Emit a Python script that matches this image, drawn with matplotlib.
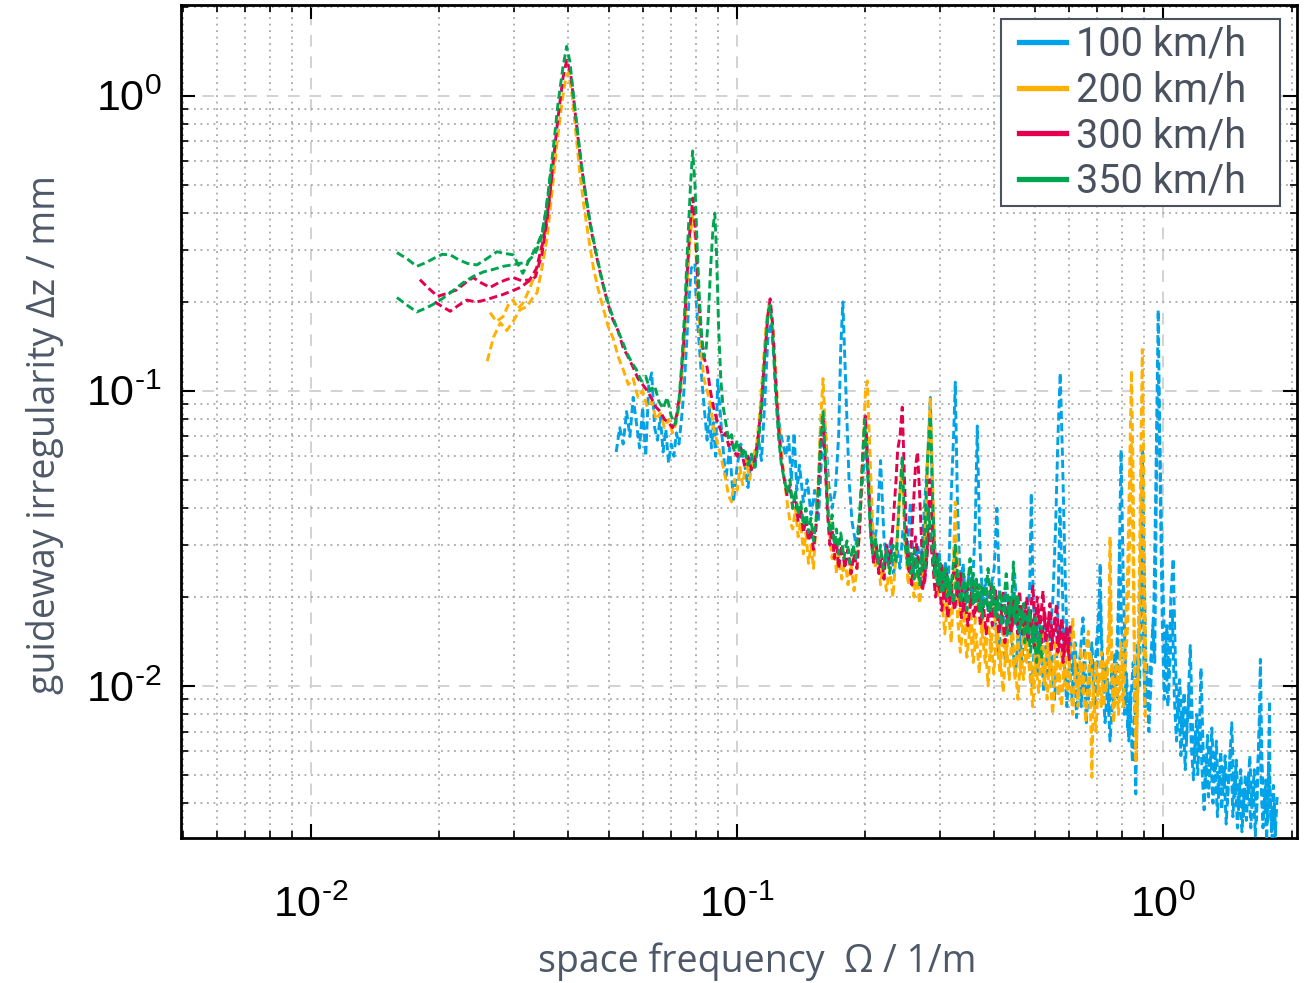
import matplotlib
matplotlib.use("Agg")
import math
import matplotlib.pyplot as plt
from matplotlib.lines import Line2D
from matplotlib.patches import Rectangle
from matplotlib.ticker import LogLocator, NullFormatter, FuncFormatter

# ---------------- data ----------------
blue_pts = [(0.052,0.062),(0.053,0.075),(0.054,0.066),(0.055,0.085),(0.056,0.07),(0.057,0.095),(0.058,0.078),(0.059,0.064),(0.060,0.088),(0.061,0.06),(0.062,0.105),(0.063,0.115),(0.064,0.075),(0.065,0.068),(0.066,0.082),(0.067,0.062),(0.068,0.074),(0.069,0.057),(0.070,0.066),(0.071,0.06),(0.072,0.072),(0.073,0.066),(0.074,0.08),(0.075,0.1),(0.076,0.14),(0.077,0.2),(0.078,0.26),(0.0796,0.27),(0.080,0.21),(0.081,0.16),(0.082,0.125),(0.083,0.1),(0.084,0.082),(0.085,0.068),(0.086,0.088),(0.087,0.064),(0.088,0.078),(0.089,0.06),(0.090,0.109),(0.092,0.072),(0.094,0.05),(0.096,0.064),(0.098,0.042),(0.100,0.056),(0.102,0.066),(0.104,0.057),(0.106,0.047),(0.108,0.06),(0.110,0.054),(0.112,0.07),(0.114,0.058),(0.116,0.09),(0.118,0.15),(0.120,0.17),(0.122,0.13),(0.124,0.088),(0.126,0.074),(0.128,0.066),(0.130,0.06),(0.132,0.07),(0.134,0.05),(0.136,0.072),(0.138,0.046),(0.140,0.056),(0.143,0.042),(0.146,0.05),(0.149,0.038),(0.152,0.046),(0.155,0.036),(0.158,0.062),(0.161,0.075),(0.164,0.048),(0.167,0.04),(0.170,0.046),(0.173,0.07),(0.175,0.14),(0.177,0.2),(0.180,0.1),(0.183,0.05),(0.186,0.036),(0.190,0.03),(0.194,0.038),(0.198,0.055),(0.201,0.072),(0.205,0.042),(0.209,0.03),(0.213,0.035),(0.217,0.058),(0.221,0.032),(0.225,0.026),(0.229,0.031),(0.233,0.024),(0.237,0.03),(0.241,0.025),(0.245,0.034),(0.250,0.027),(0.255,0.042),(0.260,0.023),(0.265,0.03),(0.270,0.026),(0.275,0.04),(0.280,0.06),(0.284,0.095),(0.288,0.038),(0.293,0.024),(0.298,0.028),(0.303,0.021),(0.308,0.026),(0.313,0.022),(0.318,0.045),(0.322,0.07),(0.325,0.107),(0.329,0.04),(0.334,0.022),(0.339,0.026),(0.344,0.019),(0.350,0.024),(0.356,0.02),(0.362,0.035),(0.366,0.076),(0.371,0.03),(0.377,0.019),(0.383,0.023),(0.389,0.017),(0.395,0.022),(0.401,0.025),(0.407,0.04),(0.413,0.02),(0.420,0.016),(0.427,0.021),(0.434,0.015),(0.441,0.019),(0.448,0.024),(0.455,0.016),(0.462,0.013),(0.470,0.018),(0.478,0.014),(0.486,0.022),(0.490,0.045),(0.495,0.02),(0.503,0.013),(0.511,0.017),(0.519,0.012),(0.527,0.016),(0.535,0.011),(0.543,0.015),(0.551,0.02),(0.559,0.035),(0.566,0.07),(0.573,0.115),(0.580,0.06),(0.588,0.025),(0.596,0.013),(0.604,0.016),(0.612,0.011),(0.621,0.014),(0.630,0.01),(0.639,0.013),(0.648,0.017),(0.657,0.011),(0.667,0.009),(0.677,0.013),(0.687,0.01),(0.697,0.014),(0.706,0.018),(0.711,0.026),(0.716,0.015),(0.726,0.0095),(0.736,0.012),(0.746,0.008),(0.756,0.011),(0.766,0.0085),(0.776,0.012),(0.786,0.02),(0.796,0.063),(0.806,0.022),(0.816,0.011),(0.826,0.007),(0.836,0.0095),(0.846,0.0055),(0.856,0.008),(0.862,0.0043),(0.870,0.011),(0.878,0.016),(0.886,0.03),(0.893,0.066),(0.900,0.03),(0.910,0.012),(0.920,0.0085),(0.930,0.011),(0.940,0.014),(0.950,0.018),(0.960,0.045),(0.967,0.1),(0.973,0.188),(0.980,0.08),(0.990,0.035),(1.000,0.02),(1.010,0.012),(1.020,0.016),(1.030,0.011),(1.042,0.02),(1.055,0.027),(1.068,0.012),(1.080,0.008),(1.093,0.0105),(1.106,0.007),(1.119,0.0095),(1.132,0.0065),(1.145,0.009),(1.157,0.0137),(1.170,0.0075),(1.184,0.0055),(1.198,0.008),(1.212,0.006),(1.226,0.0115),(1.240,0.0062),(1.255,0.0045),(1.270,0.0068),(1.285,0.005),(1.300,0.0072),(1.316,0.0048),(1.332,0.0065),(1.348,0.0042),(1.364,0.006),(1.380,0.0045),(1.397,0.0058),(1.414,0.004),(1.431,0.0055),(1.448,0.0075),(1.466,0.0042),(1.484,0.0056),(1.502,0.0038),(1.520,0.0052),(1.539,0.0036),(1.558,0.005),(1.577,0.0042),(1.596,0.0058),(1.615,0.0039),(1.635,0.0052),(1.655,0.0035),(1.675,0.0062),(1.690,0.0123),(1.705,0.0055),(1.722,0.0038),(1.740,0.0048),(1.758,0.0034),(1.776,0.0089),(1.780,0.0045),(1.795,0.0032),(1.813,0.0046),(1.831,0.0031),(1.850,0.0042)]
blue_hi_pts = [(0.402,0.018),(0.410,0.013),(0.418,0.017),(0.426,0.012),(0.434,0.02),(0.442,0.014),(0.450,0.011),(0.458,0.016),(0.466,0.012),(0.474,0.019),(0.482,0.013),(0.492,0.01),(0.500,0.015),(0.508,0.011),(0.516,0.0145),(0.524,0.0095),(0.532,0.013),(0.540,0.017),(0.548,0.012),(0.556,0.009),(0.564,0.014),(0.572,0.04),(0.578,0.025),(0.586,0.012),(0.594,0.0085),(0.602,0.012),(0.610,0.009),(0.618,0.013),(0.626,0.0078),(0.634,0.011),(0.642,0.0085),(0.650,0.012),(0.660,0.0075),(0.670,0.011),(0.680,0.014),(0.690,0.0085),(0.700,0.012),(0.710,0.02),(0.720,0.011),(0.730,0.0075),(0.740,0.01),(0.750,0.0065),(0.760,0.009),(0.770,0.013),(0.780,0.009),(0.790,0.03),(0.800,0.014),(0.810,0.008),(0.820,0.011),(0.830,0.0065),(0.840,0.009),(0.850,0.012),(0.860,0.0075),(0.870,0.014),(0.880,0.01),(0.890,0.04),(0.898,0.014),(0.906,0.0085),(0.915,0.012),(0.925,0.007),(0.935,0.01),(0.945,0.016),(0.955,0.012),(0.965,0.06),(0.975,0.11),(0.985,0.04),(0.995,0.016),(1.005,0.009),(1.015,0.013),(1.025,0.0085),(1.037,0.012),(1.050,0.018),(1.062,0.009),(1.074,0.0065),(1.087,0.009),(1.100,0.0058),(1.113,0.008),(1.126,0.0052),(1.139,0.0075),(1.151,0.01),(1.164,0.0062),(1.177,0.0048),(1.191,0.007),(1.205,0.005),(1.219,0.0078),(1.233,0.0052),(1.247,0.0038),(1.262,0.0056),(1.277,0.0042),(1.292,0.006),(1.308,0.004),(1.324,0.0056),(1.340,0.0036),(1.356,0.005),(1.372,0.0038),(1.388,0.0052),(1.405,0.0034),(1.422,0.0048),(1.440,0.0062),(1.457,0.0036),(1.475,0.005),(1.493,0.0033),(1.511,0.0046),(1.530,0.0032),(1.548,0.0044),(1.567,0.0035),(1.586,0.005),(1.605,0.0033),(1.625,0.0046),(1.645,0.0031),(1.665,0.0052),(1.685,0.008),(1.698,0.0045),(1.714,0.0033),(1.731,0.0043),(1.749,0.003),(1.767,0.0055),(1.786,0.0038),(1.804,0.0029),(1.822,0.004),(1.840,0.0029)]

orange_pts = [(0.0259,0.126),(0.0268,0.152),(0.0278,0.17),(0.0288,0.16),(0.0298,0.172),(0.0309,0.188),(0.0321,0.193),(0.0330,0.205),(0.0339,0.215),(0.0348,0.26),(0.0358,0.33),(0.0368,0.48),(0.0378,0.7),(0.0388,0.95),(0.0396,1.15),(0.0402,1.2),(0.0410,1.0),(0.0418,0.75),(0.0427,0.55),(0.0437,0.42),(0.0448,0.33),(0.0460,0.26),(0.0472,0.22),(0.0485,0.19),(0.0498,0.165),(0.0512,0.15),(0.0526,0.13),(0.0540,0.118),(0.0555,0.105),(0.0570,0.11),(0.0585,0.095),(0.0600,0.1),(0.0615,0.088),(0.0630,0.092),(0.0645,0.08),(0.0660,0.084),(0.0675,0.075),(0.0690,0.08),(0.0705,0.072),(0.0720,0.078),(0.0735,0.095),(0.0750,0.14),(0.0762,0.22),(0.0775,0.33),(0.0787,0.4),(0.0798,0.32),(0.0810,0.2),(0.0822,0.14),(0.0835,0.11),(0.0850,0.1),(0.0865,0.09),(0.0880,0.075),(0.0895,0.068),(0.0910,0.062),(0.0925,0.056),(0.0940,0.05),(0.0955,0.044),(0.0970,0.042),(0.0985,0.05),(0.1000,0.046),(0.1015,0.055),(0.1030,0.048),(0.1050,0.058),(0.1070,0.05),(0.1090,0.06),(0.1110,0.065),(0.1130,0.085),(0.1150,0.12),(0.1170,0.17),(0.1190,0.2),(0.1210,0.17),(0.1230,0.12),(0.1250,0.08),(0.1270,0.062),(0.1290,0.05),(0.1310,0.042),(0.1330,0.036),(0.1350,0.034),(0.1370,0.04),(0.1390,0.032),(0.1410,0.036),(0.1430,0.028),(0.1450,0.033),(0.1470,0.026),(0.1490,0.03),(0.1510,0.025),(0.1530,0.035),(0.1550,0.05),(0.1570,0.08),(0.1590,0.11),(0.1610,0.075),(0.1630,0.045),(0.1650,0.032),(0.1670,0.027),(0.1690,0.03),(0.1710,0.024),(0.1730,0.028),(0.1760,0.023),(0.1790,0.027),(0.1820,0.022),(0.1850,0.026),(0.1880,0.021),(0.1910,0.025),(0.1940,0.035),(0.1970,0.06),(0.2000,0.1),(0.2020,0.108),(0.2050,0.06),(0.2080,0.035),(0.2110,0.025),(0.2140,0.028),(0.2170,0.022),(0.2200,0.026),(0.2240,0.021),(0.2280,0.025),(0.2320,0.02),(0.2360,0.028),(0.2400,0.042),(0.2440,0.055),(0.2480,0.03),(0.2520,0.022),(0.2560,0.026),(0.2600,0.02),(0.2640,0.024),(0.2680,0.019),(0.2720,0.023),(0.2760,0.03),(0.2800,0.06),(0.2840,0.095),(0.2880,0.045),(0.2920,0.024),(0.2960,0.02),(0.3000,0.023),(0.3050,0.018),(0.3100,0.022),(0.3150,0.017),(0.3200,0.021),(0.3250,0.042),(0.3300,0.022),(0.3350,0.016),(0.3400,0.02),(0.3460,0.015),(0.3520,0.019),(0.3580,0.014),(0.3640,0.018),(0.3700,0.022),(0.3760,0.015),(0.3820,0.012),(0.3880,0.017),(0.3940,0.013),(0.4000,0.019),(0.4070,0.014),(0.4140,0.011),(0.4210,0.016),(0.4280,0.012),(0.4350,0.018),(0.4420,0.013),(0.4490,0.0105),(0.4560,0.015),(0.4630,0.011),(0.4700,0.016),(0.4780,0.012),(0.4860,0.0135),(0.4940,0.01),(0.5020,0.014),(0.5100,0.0115),(0.5180,0.0155),(0.5260,0.012),(0.5340,0.009),(0.5420,0.013),(0.5500,0.0105),(0.5590,0.014),(0.5680,0.011),(0.5770,0.0085),(0.5860,0.012),(0.5950,0.0095),(0.6040,0.013),(0.6130,0.017),(0.6220,0.011),(0.6310,0.0085),(0.6400,0.012),(0.6490,0.0095),(0.6580,0.013),(0.6670,0.0153),(0.6760,0.0075),(0.6800,0.0049),(0.6850,0.009),(0.6950,0.012),(0.7050,0.0095),(0.7150,0.013),(0.7250,0.0085),(0.7350,0.011),(0.7450,0.016),(0.7500,0.032),(0.7560,0.014),(0.7650,0.009),(0.7750,0.012),(0.7850,0.0095),(0.7950,0.014),(0.8050,0.0105),(0.8150,0.015),(0.8250,0.025),(0.8350,0.06),(0.8420,0.117),(0.8500,0.05),(0.8560,0.012),(0.8620,0.0055),(0.8700,0.01),(0.8800,0.028),(0.8870,0.07),(0.8930,0.138),(0.8990,0.06),(0.9050,0.02),(0.9100,0.011)]
orange_low_pts = [(0.0263,0.184),(0.0272,0.172),(0.0282,0.178),(0.0290,0.195),(0.0298,0.203),(0.0306,0.19),(0.0314,0.198),(0.0325,0.22),(0.0336,0.25),(0.0346,0.29),(0.0356,0.36),(0.0366,0.5),(0.0376,0.7)]
orange_hi_pts = [(0.302,0.02),(0.307,0.015),(0.312,0.019),(0.318,0.014),(0.324,0.03),(0.329,0.017),(0.334,0.013),(0.340,0.017),(0.346,0.0125),(0.352,0.016),(0.358,0.012),(0.364,0.015),(0.370,0.011),(0.376,0.018),(0.382,0.014),(0.388,0.01),(0.394,0.015),(0.400,0.011),(0.407,0.016),(0.414,0.0125),(0.421,0.0095),(0.428,0.014),(0.435,0.0105),(0.442,0.016),(0.449,0.012),(0.456,0.009),(0.463,0.013),(0.470,0.0105),(0.478,0.0145),(0.486,0.011),(0.494,0.0085),(0.502,0.012),(0.510,0.0095),(0.518,0.013),(0.526,0.01),(0.534,0.0145),(0.542,0.011),(0.550,0.008),(0.559,0.012),(0.568,0.0092),(0.577,0.013),(0.586,0.01),(0.595,0.0145),(0.604,0.011),(0.613,0.008),(0.622,0.012),(0.631,0.0095),(0.640,0.0135),(0.649,0.01),(0.658,0.0075),(0.667,0.011),(0.676,0.013),(0.685,0.0095),(0.695,0.007),(0.705,0.011),(0.715,0.0085),(0.725,0.012),(0.735,0.0095),(0.745,0.013),(0.750,0.02),(0.756,0.011),(0.765,0.0075),(0.775,0.0105),(0.785,0.008),(0.795,0.011),(0.805,0.0085),(0.815,0.012),(0.825,0.016),(0.835,0.035),(0.842,0.07),(0.850,0.025),(0.858,0.009),(0.866,0.0065),(0.874,0.011),(0.882,0.018),(0.890,0.06),(0.896,0.03),(0.902,0.012),(0.908,0.0075)]

red_pts = [(0.0180,0.238),(0.0189,0.222),(0.0198,0.209),(0.0209,0.214),(0.0220,0.22),(0.0230,0.232),(0.0240,0.242),(0.0251,0.232),(0.0263,0.224),(0.0275,0.232),(0.0287,0.238),(0.0298,0.242),(0.0312,0.236),(0.0326,0.238),(0.0338,0.26),(0.0350,0.32),(0.0360,0.42),(0.0370,0.6),(0.0380,0.85),(0.0390,1.15),(0.0398,1.32),(0.0406,1.2),(0.0414,0.95),(0.0423,0.72),(0.0433,0.55),(0.0444,0.43),(0.0456,0.34),(0.0469,0.28),(0.0482,0.235),(0.0496,0.2),(0.0510,0.175),(0.0525,0.16),(0.0540,0.14),(0.0555,0.13),(0.0570,0.12),(0.0585,0.11),(0.0600,0.105),(0.0615,0.1),(0.0630,0.094),(0.0645,0.088),(0.0660,0.085),(0.0675,0.08),(0.0690,0.078),(0.0705,0.075),(0.0720,0.082),(0.0735,0.1),(0.0750,0.15),(0.0762,0.24),(0.0775,0.36),(0.0787,0.45),(0.0798,0.35),(0.0810,0.22),(0.0822,0.16),(0.0835,0.13),(0.0850,0.12),(0.0865,0.1),(0.0880,0.088),(0.0895,0.08),(0.0910,0.075),(0.0925,0.07),(0.0940,0.072),(0.0955,0.065),(0.0970,0.068),(0.0985,0.062),(0.1000,0.06),(0.1020,0.064),(0.1040,0.056),(0.1060,0.06),(0.1080,0.054),(0.1100,0.058),(0.1120,0.07),(0.1140,0.09),(0.1160,0.13),(0.1180,0.18),(0.1195,0.205),(0.1210,0.17),(0.1230,0.11),(0.1250,0.075),(0.1270,0.058),(0.1290,0.05),(0.1310,0.044),(0.1330,0.048),(0.1350,0.04),(0.1370,0.044),(0.1390,0.036),(0.1410,0.04),(0.1430,0.033),(0.1450,0.037),(0.1470,0.031),(0.1490,0.034),(0.1510,0.029),(0.1530,0.034),(0.1550,0.045),(0.1570,0.065),(0.1590,0.08),(0.1610,0.055),(0.1630,0.038),(0.1650,0.03),(0.1670,0.034),(0.1690,0.027),(0.1710,0.031),(0.1730,0.025),(0.1760,0.03),(0.1790,0.025),(0.1820,0.029),(0.1850,0.024),(0.1880,0.028),(0.1910,0.025),(0.1940,0.035),(0.1970,0.06),(0.2000,0.082),(0.2030,0.05),(0.2060,0.032),(0.2090,0.026),(0.2120,0.03),(0.2150,0.024),(0.2180,0.028),(0.2210,0.023),(0.2240,0.03),(0.2280,0.026),(0.2320,0.035),(0.2360,0.05),(0.2380,0.063),(0.2410,0.07),(0.2440,0.088),(0.2470,0.05),(0.2500,0.03),(0.2530,0.024),(0.2560,0.03),(0.2590,0.04),(0.2620,0.055),(0.2650,0.062),(0.2680,0.045),(0.2710,0.03),(0.2750,0.022),(0.2790,0.027),(0.2830,0.05),(0.2870,0.035),(0.2910,0.024),(0.2940,0.028),(0.2980,0.021),(0.3020,0.026),(0.3060,0.02),(0.3100,0.024),(0.3150,0.019),(0.3200,0.023),(0.3250,0.026),(0.3300,0.02),(0.3350,0.024),(0.3400,0.018),(0.3460,0.022),(0.3520,0.019),(0.3580,0.023),(0.3640,0.018),(0.3700,0.021),(0.3760,0.017),(0.3820,0.021),(0.3880,0.018),(0.3940,0.022),(0.4000,0.017),(0.4070,0.02),(0.4140,0.016),(0.4210,0.021),(0.4280,0.017),(0.4350,0.02),(0.4420,0.016),(0.4490,0.019),(0.4560,0.015),(0.4630,0.019),(0.4700,0.016),(0.4780,0.02),(0.4860,0.016),(0.4940,0.022),(0.5020,0.015),(0.5100,0.018),(0.5180,0.014),(0.5260,0.018),(0.5340,0.015),(0.5420,0.019),(0.5500,0.014),(0.5580,0.017),(0.5660,0.013),(0.5740,0.016),(0.5820,0.012),(0.5900,0.015),(0.5980,0.013),(0.6050,0.016)]
red_low_pts = [(0.0195,0.2),(0.0203,0.193),(0.0212,0.186),(0.0222,0.195),(0.0232,0.203),(0.0244,0.2),(0.0256,0.203),(0.0270,0.208),(0.0282,0.212),(0.0296,0.218),(0.0310,0.224),(0.0324,0.235),(0.0336,0.243),(0.0348,0.29),(0.0358,0.38),(0.0368,0.55)]
red_hi_pts = [(0.252,0.028),(0.257,0.022),(0.262,0.032),(0.267,0.026),(0.272,0.021),(0.277,0.025),(0.282,0.035),(0.287,0.027),(0.292,0.02),(0.297,0.024),(0.302,0.018),(0.307,0.022),(0.312,0.017),(0.318,0.021),(0.324,0.018),(0.330,0.023),(0.336,0.017),(0.342,0.02),(0.348,0.016),(0.354,0.02),(0.360,0.017),(0.366,0.022),(0.372,0.016),(0.378,0.019),(0.384,0.015),(0.390,0.019),(0.397,0.016),(0.404,0.021),(0.411,0.015),(0.418,0.018),(0.425,0.014),(0.432,0.018),(0.439,0.015),(0.446,0.02),(0.453,0.017),(0.460,0.021),(0.467,0.015),(0.474,0.018),(0.482,0.014),(0.490,0.017),(0.498,0.0135),(0.506,0.02),(0.514,0.016),(0.522,0.021),(0.530,0.014),(0.538,0.017),(0.546,0.013),(0.554,0.016),(0.562,0.019),(0.570,0.0135),(0.578,0.017),(0.586,0.013),(0.594,0.016),(0.602,0.012)]

green_pts = [(0.0159,0.294),(0.0168,0.28),(0.0177,0.264),(0.0186,0.272),(0.0195,0.282),(0.0203,0.29),(0.0212,0.289),(0.0222,0.278),(0.0233,0.27),(0.0245,0.267),(0.0258,0.28),(0.0273,0.296),(0.0285,0.292),(0.0298,0.289),(0.0314,0.25),(0.0326,0.28),(0.0339,0.31),(0.0350,0.35),(0.0360,0.46),(0.0370,0.66),(0.0380,0.95),(0.0390,1.25),(0.0398,1.47),(0.0405,1.3),(0.0413,1.0),(0.0421,0.78),(0.0430,0.6),(0.0440,0.47),(0.0452,0.37),(0.0465,0.3),(0.0478,0.25),(0.0492,0.21),(0.0506,0.185),(0.0520,0.165),(0.0535,0.15),(0.0550,0.135),(0.0565,0.125),(0.0580,0.118),(0.0595,0.108),(0.0610,0.112),(0.0625,0.1),(0.0640,0.104),(0.0655,0.092),(0.0670,0.087),(0.0685,0.095),(0.0700,0.082),(0.0715,0.077),(0.0728,0.088),(0.0740,0.12),(0.0752,0.18),(0.0764,0.3),(0.0776,0.48),(0.0786,0.65),(0.0796,0.5),(0.0806,0.3),(0.0816,0.2),(0.0826,0.15),(0.0836,0.13),(0.0846,0.14),(0.0856,0.18),(0.0866,0.26),(0.0878,0.36),(0.0886,0.4),(0.0894,0.3),(0.0905,0.16),(0.0915,0.11),(0.0925,0.09),(0.0940,0.078),(0.0955,0.068),(0.0970,0.071),(0.0985,0.062),(0.1000,0.068),(0.1020,0.06),(0.1040,0.064),(0.1060,0.056),(0.1080,0.061),(0.1100,0.055),(0.1120,0.066),(0.1140,0.085),(0.1160,0.13),(0.1180,0.18),(0.1195,0.195),(0.1210,0.16),(0.1230,0.1),(0.1250,0.07),(0.1270,0.056),(0.1290,0.05),(0.1310,0.045),(0.1330,0.05),(0.1350,0.04),(0.1370,0.046),(0.1390,0.038),(0.1410,0.042),(0.1430,0.035),(0.1450,0.04),(0.1470,0.033),(0.1490,0.037),(0.1510,0.031),(0.1530,0.036),(0.1550,0.046),(0.1570,0.07),(0.1590,0.085),(0.1610,0.06),(0.1630,0.04),(0.1650,0.033),(0.1670,0.038),(0.1690,0.03),(0.1710,0.034),(0.1730,0.028),(0.1750,0.033),(0.1780,0.027),(0.1810,0.031),(0.1840,0.026),(0.1870,0.03),(0.1900,0.027),(0.1930,0.035),(0.1960,0.05),(0.1990,0.08),(0.2020,0.055),(0.2050,0.035),(0.2080,0.028),(0.2110,0.032),(0.2140,0.026),(0.2170,0.03),(0.2200,0.025),(0.2240,0.029),(0.2280,0.024),(0.2320,0.03),(0.2360,0.026),(0.2400,0.042),(0.2440,0.06),(0.2480,0.03),(0.2520,0.025),(0.2560,0.028),(0.2600,0.023),(0.2640,0.027),(0.2680,0.022),(0.2720,0.026),(0.2760,0.035),(0.2800,0.06),(0.2840,0.082),(0.2880,0.04),(0.2920,0.025),(0.2960,0.022),(0.3000,0.026),(0.3050,0.021),(0.3100,0.025),(0.3150,0.02),(0.3200,0.024),(0.3250,0.03),(0.3300,0.022),(0.3350,0.019),(0.3400,0.024),(0.3460,0.02),(0.3520,0.027),(0.3580,0.019),(0.3640,0.023),(0.3700,0.018),(0.3760,0.022),(0.3820,0.019),(0.3880,0.025),(0.3940,0.018),(0.4000,0.022),(0.4070,0.017),(0.4140,0.021),(0.4210,0.018),(0.4280,0.024),(0.4350,0.017),(0.4420,0.021),(0.4450,0.0263),(0.4490,0.016),(0.4560,0.02),(0.4630,0.016),(0.4700,0.019),(0.4780,0.015),(0.4860,0.018),(0.4940,0.014),(0.5020,0.017),(0.5100,0.013),(0.5180,0.016)]
green_low_pts = [(0.0159,0.207),(0.0168,0.195),(0.0177,0.185),(0.0185,0.19),(0.0193,0.196),(0.0203,0.205),(0.0215,0.218),(0.0227,0.232),(0.0240,0.244),(0.0254,0.253),(0.0268,0.258),(0.0282,0.264),(0.0300,0.268),(0.0321,0.273),(0.0335,0.29),(0.0345,0.32),(0.0355,0.4),(0.0365,0.55)]
green_hi_pts = [(0.251,0.03),(0.256,0.024),(0.261,0.029),(0.266,0.023),(0.271,0.028),(0.276,0.025),(0.281,0.04),(0.286,0.03),(0.291,0.023),(0.296,0.027),(0.301,0.021),(0.306,0.025),(0.311,0.02),(0.316,0.023),(0.322,0.019),(0.328,0.024),(0.334,0.02),(0.340,0.022),(0.346,0.018),(0.352,0.021),(0.358,0.024),(0.364,0.019),(0.370,0.022),(0.376,0.017),(0.382,0.021),(0.389,0.018),(0.396,0.022),(0.403,0.017),(0.410,0.02),(0.417,0.016),(0.424,0.019),(0.431,0.015),(0.438,0.02),(0.445,0.017),(0.452,0.02),(0.459,0.015),(0.466,0.018),(0.473,0.014),(0.480,0.017),(0.488,0.013),(0.496,0.016),(0.504,0.012),(0.512,0.015),(0.520,0.012)]

speed_labels = ["100 km/h", "200 km/h", "300 km/h", "350 km/h"]
speed_colors = ["#00A2E8", "#FFB000", "#E2004F", "#00A550"]
x_label = "space frequency  \u03A9 / 1/m"
y_label = "guideway irregularity \u0394z / mm"

# ---------------- figure ----------------
plt.rcParams["axes.unicode_minus"] = False
plt.rcParams["font.family"] = ["Liberation Sans", "DejaVu Sans"]
plt.rcParams["mathtext.fontset"] = "custom"
plt.rcParams["mathtext.rm"] = "Liberation Sans"
plt.rcParams["mathtext.it"] = "Liberation Sans:italic"
plt.rcParams["mathtext.bf"] = "Liberation Sans:bold"

W, H = 1306, 983
fig = plt.figure(figsize=(W / 100, H / 100), dpi=100)
L, R, T, B = 181, 1297, 5, 838
ax = fig.add_axes([L / W, 1 - B / H, (R - L) / W, (B - T) / H])
ax.set_xscale("log")
ax.set_yscale("log")
ax.set_xlim(0.00495, 2.06)
ax.set_ylim(0.00305, 2.03)

series = [
    (blue_pts, speed_colors[0]),
    (blue_hi_pts, speed_colors[0]),
    (orange_low_pts, speed_colors[1]),
    (orange_pts, speed_colors[1]),
    (orange_hi_pts, speed_colors[1]),
    (red_low_pts, speed_colors[2]),
    (red_pts, speed_colors[2]),
    (red_hi_pts, speed_colors[2]),
    (green_low_pts, speed_colors[3]),
    (green_pts, speed_colors[3]),
    (green_hi_pts, speed_colors[3]),
]
for pts, col in series:
    f, a = zip(*pts)
    ax.plot(f, a, color=col, lw=2.1, dashes=(2.8, 1.4), zorder=3)

# grid
ax.grid(which="major", linestyle=(0, (6, 5)), color="#d2d2d2", lw=1.4, zorder=0)
ax.grid(which="minor", linestyle=(0, (1, 2.6)), color="#a8a8a8", lw=1.3, zorder=0)
ax.set_axisbelow(True)


def decade_label(v, pos):
    e = int(round(math.log10(v)))
    if e < 0:
        return r"$10^{\text{-}%d}$" % (-e)
    return r"$10^{%d}$" % e


for axis in (ax.xaxis, ax.yaxis):
    axis.set_major_locator(LogLocator(base=10, numticks=20))
    axis.set_major_formatter(FuncFormatter(decade_label))
    axis.set_minor_locator(LogLocator(base=10, subs=range(2, 10), numticks=50))
    axis.set_minor_formatter(NullFormatter())

ax.tick_params(which="both", direction="in", top=True, right=True, colors="black")
ax.tick_params(which="major", length=10, width=1.5)
ax.tick_params(which="minor", length=5, width=1.2)
ax.tick_params(axis="y", which="major", labelsize=31, pad=14)
ax.tick_params(axis="x", which="major", labelsize=31, pad=34)
for sp in ax.spines.values():
    sp.set_linewidth(2)
    sp.set_color("black")

label_color = "#4d5868"
fig.text(757 / W, 1 - 962 / H, x_label, ha="center", va="center", fontsize=27,
         color=label_color, family=["Open Sans", "DejaVu Sans"])
fig.text(45 / W, 1 - 435 / H, y_label, ha="center", va="center", rotation=90, fontsize=27,
         color=label_color, family=["Open Sans", "DejaVu Sans"])

# legend (frame drawn separately to match the wide box of the reference)
handles = [Line2D([0], [0], color=c, lw=3.8) for c in speed_colors]
leg = ax.legend(handles, speed_labels, loc="upper right", bbox_to_anchor=(0.9624, 0.9868),
                borderaxespad=0, frameon=False,
                prop={"family": "Roboto", "size": 28.5}, handlelength=1.2, handletextpad=0.25,
                labelspacing=0.17, borderpad=0.22)
for t in leg.get_texts():
    t.set_color("#4a5260")
leg.set_zorder(6)
box = Rectangle((0.7348, 0.7587), 0.9848 - 0.7348, 0.9832 - 0.7587, transform=ax.transAxes,
                facecolor="white", edgecolor="#4a5260", lw=1.5, zorder=5)
ax.add_patch(box)

fig.savefig("out.png", dpi=100)
